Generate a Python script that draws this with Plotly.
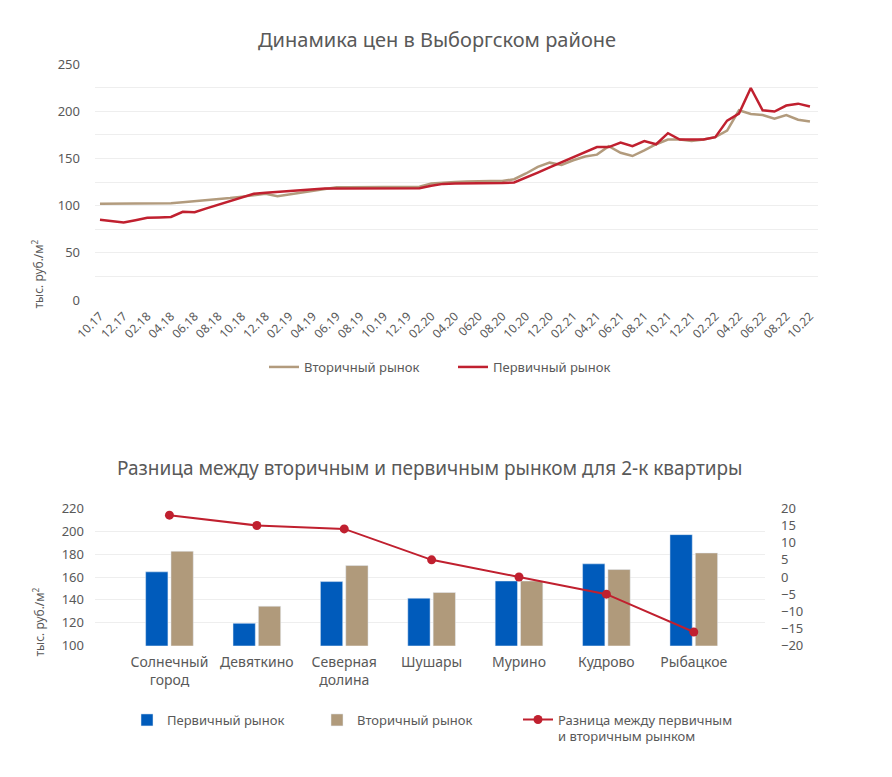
import plotly.graph_objects as go

# ---------------- data: top chart ----------------
tick_labels = ["10.17", "12.17", "02.18", "04.18", "06.18", "08.18", "10.18", "12.18",
               "02.19", "04.19", "06.19", "08.19", "10.19", "12.19", "02.20", "04.20",
               "0620", "08.20", "10.20", "12.20", "02.21", "04.21", "06.21", "08.21",
               "10.21", "12.21", "02.22", "04.22", "06.22", "08.22", "10.22"]

secondary = [102, 102, 102, 102, 102, 102, 102.5, 103.5, 104.5, 105.5,
             106.5, 108, 109.5, 111, 112.5, 110, 112, 114, 116, 118,
             119.5, 119.5, 119.5, 119.5, 119.5, 119.8, 120, 120, 123.5, 124.5,
             125, 125.5, 126, 126, 126, 128, 134, 141, 145.5, 143,
             148, 152, 154, 163, 156, 152.5, 158.5, 165, 170, 170,
             168.5, 170, 172.5, 179.5, 201, 197, 196, 192, 196, 191,
             189]

primary = [85, 83.5, 82, 84.5, 87, 87.5, 88, 93.5, 93, 97,
           101, 105, 109, 112.5, 113.5, 114.5, 115.5, 116.5, 117.5, 118,
           118, 118, 118, 118, 118, 118, 118, 118.5, 121, 123,
           123.5, 123.5, 124, 124, 124, 124.5, 129.5, 135, 140.5, 146,
           151.5, 157, 162, 162, 166.7, 163, 168.4, 165, 176.7, 170,
           170, 170, 172.5, 190, 197.5, 224.6, 201, 199.6, 206, 208,
           205]

# ---------------- data: bottom chart ----------------
districts = ["Солнечный<br>город", "Девяткино", "Северная<br>долина", "Шушары",
             "Мурино", "Кудрово", "Рыбацкое"]
primary_2k = [164.5, 119.5, 156, 141.5, 156.5, 171.5, 197]
secondary_2k = [182.5, 134.5, 170, 146.5, 156.5, 166.5, 181]
difference = [18, 15, 14, 5, 0, -5, -16]

# page has an 8px body margin, so the figure is drawn 8px in from the window edge
OFF = 8
W, H = 892 - OFF, 777 - OFF
def px(x):
    return (x - OFF) / W
def py(y):
    return 1 - (y - OFF) / H

TXT = "#595959"
GRID = "#eeeeee"
RED = "#C0202F"
TAN = "#B29B7D"
BLUE = "#005BBB"
FONT = "Noto Sans"

months = list(range(len(primary)))
tickvals = list(range(0, len(primary), 2))

fig = go.Figure()

fig.add_trace(go.Scatter(x=months, y=secondary, mode="lines", name="Вторичный рынок",
                         line=dict(color=TAN, width=2.5), xaxis="x", yaxis="y",
                         legend="legend"))
fig.add_trace(go.Scatter(x=months, y=primary, mode="lines", name="Первичный рынок",
                         line=dict(color=RED, width=2.5), xaxis="x", yaxis="y",
                         legend="legend2"))

fig.add_trace(go.Bar(x=districts, y=primary_2k, name="Первичный рынок",
                     marker=dict(color=BLUE), xaxis="x2", yaxis="y2", legend="legend3"))
fig.add_trace(go.Bar(x=districts, y=secondary_2k, name="Вторичный рынок",
                     marker=dict(color="#B09A7B"), xaxis="x2", yaxis="y2", legend="legend4"))
fig.add_trace(go.Scatter(x=districts, y=difference, mode="lines+markers",
                         name="Разница между первичным<br>и вторичным рынком",
                         line=dict(color=RED, width=2), marker=dict(size=9, color=RED),
                         xaxis="x2", yaxis="y3", legend="legend5"))

legend_common = dict(font=dict(family=FONT, size=13, color=TXT), bgcolor="rgba(0,0,0,0)",
                     xanchor="left", yanchor="middle", orientation="h")

fig.update_layout(
    width=W, height=H,
    showlegend=True,
    margin=dict(l=0, r=0, t=0, b=0, autoexpand=False),
    paper_bgcolor="white", plot_bgcolor="white",
    font=dict(family=FONT, color=TXT, size=13),
    barmode="group", bargap=0.42, bargroupgap=0.12,
    xaxis=dict(domain=[px(95), px(818)], anchor="y", range=[-0.42, 60.68],
               tickmode="array", tickvals=tickvals, ticktext=tick_labels,
               tickangle=-45, showgrid=False, zeroline=False, showline=False,
               tickfont=dict(size=12, color=TXT), ticklabelstandoff=6, automargin=False),
    yaxis=dict(domain=[py(300), py(64)], anchor="x", range=[0, 250], dtick=50,
               showgrid=True, gridcolor=GRID, zeroline=False, showline=False,
               minor=dict(dtick=25, showgrid=True, gridcolor=GRID),
               tickfont=dict(size=13, color=TXT), ticklabelstandoff=14, automargin=False),
    xaxis2=dict(domain=[px(95), px(765)], anchor="y2", range=[-0.852, 6.815],
                showgrid=False, zeroline=False, showline=False,
                tickfont=dict(size=14, color=TXT), ticklabelstandoff=6, automargin=False),
    yaxis2=dict(domain=[py(645.7), py(508.3)], anchor="x2", range=[100, 220], dtick=20,
                showgrid=True, gridcolor=GRID, zeroline=False, showline=False,
                tickfont=dict(size=13, color=TXT), ticklabelstandoff=10, automargin=False),
    yaxis3=dict(overlaying="y2", side="right", anchor="free", position=px(780),
                range=[-20, 20], dtick=5, showgrid=False, zeroline=False, showline=False,
                tickfont=dict(size=13, color=TXT), automargin=False),
    legend=dict(x=px(264), y=py(367), **legend_common),
    legend2=dict(x=px(453), y=py(367), **legend_common),
    legend3=dict(x=px(127), y=py(720), **legend_common),
    legend4=dict(x=px(317), y=py(720), **legend_common),
    legend5=dict(x=px(518), y=py(728), valign="top", **legend_common),
    annotations=[
        dict(text="Динамика цен в Выборгском районе", x=px(437), y=py(40),
             xref="paper", yref="paper", showarrow=False, xanchor="center", yanchor="middle",
             font=dict(family=FONT, size=20, color=TXT)),
        dict(text="Разница между вторичным и первичным рынком для 2-к квартиры",
             x=px(430), y=py(468), xref="paper", yref="paper", showarrow=False,
             xanchor="center", yanchor="middle", font=dict(family=FONT, size=19, color=TXT)),
        dict(text="тыс. руб./м<sup>2</sup>", x=px(37), y=py(311), xref="paper", yref="paper",
             showarrow=False, textangle=-90, xanchor="center", yanchor="bottom",
             font=dict(family=FONT, size=12, color=TXT)),
        dict(text="тыс. руб./м<sup>2</sup>", x=px(38), y=py(658), xref="paper", yref="paper",
             showarrow=False, textangle=-90, xanchor="center", yanchor="bottom",
             font=dict(family=FONT, size=12, color=TXT)),
    ],
)

fig.write_html("out.html")
